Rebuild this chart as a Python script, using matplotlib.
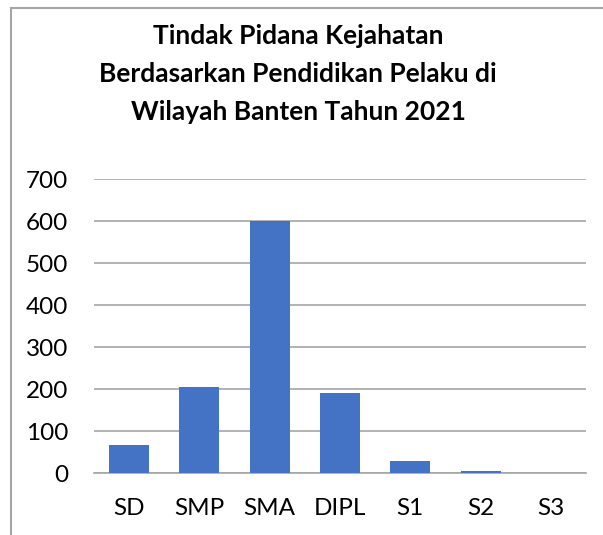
import matplotlib
matplotlib.use("Agg")
import matplotlib.pyplot as plt
from matplotlib.lines import Line2D

categories = ["SD", "SMP", "SMA", "DIPL", "S1", "S2", "S3"]
counts = [67, 205, 600, 190, 30, 5, 0]
yticks = [0, 100, 200, 300, 400, 500, 600, 700]
title = "Tindak Pidana Kejahatan\nBerdasarkan Pendidikan Pelaku di\nWilayah Banten Tahun 2021"

plt.rcParams["font.family"] = ["Lato", "DejaVu Sans"]

fig = plt.figure(figsize=(6.03, 5.35), dpi=100)
ax = fig.add_axes([94 / 603, 1 - 473.3 / 535, 492 / 603, (473.3 - 179) / 535])

x = range(len(categories))
ax.bar(x, counts, width=0.57, color="#4472C4", zorder=3)
ax.set_xlim(-0.5, len(categories) - 0.5)
ax.set_ylim(0, 700)
ax.set_yticks(yticks)
ax.set_xticks(list(x))
ax.set_xticklabels(categories)
ax.grid(axis="y", color="#a6a6a6", linewidth=1.2, zorder=0)
for s in ["top", "right", "left"]:
    ax.spines[s].set_visible(False)
ax.spines["bottom"].set_color("#a6a6a6")
ax.spines["bottom"].set_linewidth(1.2)
ax.tick_params(axis="both", length=0, labelsize=17.5, colors="#000000")
ax.tick_params(axis="y", pad=18.5)
ax.tick_params(axis="x", pad=18)

fig.text(298 / 603, 1 - 74 / 535, title, ha="center", va="center",
         fontsize=19, fontweight="bold", linespacing=1.68)

# chart frame (cut off at right and bottom)
fig.add_artist(Line2D([11 / 603, 11 / 603], [0, 1 - 8 / 535], transform=fig.transFigure,
                      color="#a6a6a6", linewidth=1.5))
fig.add_artist(Line2D([11 / 603, 1], [1 - 8 / 535, 1 - 8 / 535], transform=fig.transFigure,
                      color="#a6a6a6", linewidth=1.5))

fig.savefig("out.png", dpi=100)
